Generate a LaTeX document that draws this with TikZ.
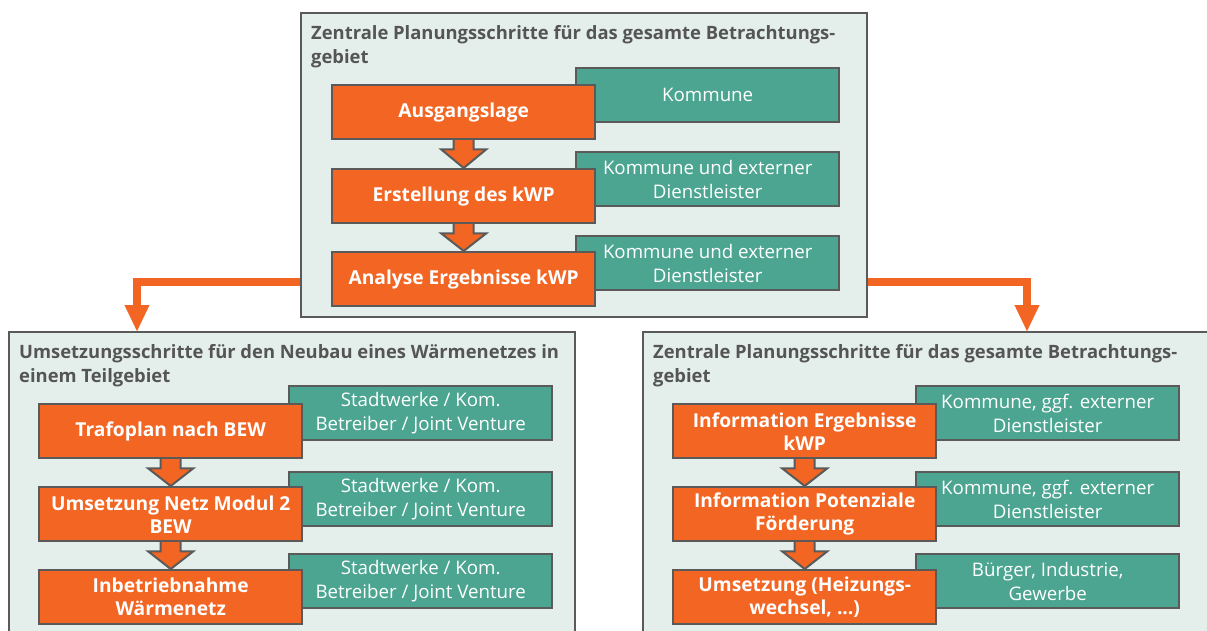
\documentclass[tikz,border=0pt]{standalone}
\usepackage{fontspec}
\setmainfont{Open Sans}
\usetikzlibrary{arrows.meta,calc}
\definecolor{orng}{HTML}{F26522}
\definecolor{tl}{HTML}{4BA590}
\definecolor{pnl}{HTML}{E4EFEC}
\definecolor{edge}{HTML}{5A5A5A}
\definecolor{ttl}{HTML}{555555}
\pgfdeclarelayer{bg}\pgfdeclarelayer{mid}\pgfsetlayers{bg,mid,main}
\tikzset{
  panelbox/.style={draw=edge, line width=2.2pt, fill=pnl, anchor=north west, inner sep=0pt},
  ttlstyle/.style={anchor=north west, inner sep=0pt, align=left, text=ttl, font=\fontsize{18.4}{24.5}\selectfont\bfseries},
  obox/.style={draw=edge, line width=2.4pt, fill=orng, anchor=north west, minimum width=263pt, minimum height=54pt, inner sep=0pt, align=center, text=white, font=\fontsize{19.2}{23}\selectfont\bfseries},
  tbox/.style={draw=edge, line width=2.4pt, fill=tl, anchor=north west, minimum width=263pt, minimum height=54pt, inner sep=0pt, align=center, text=white, font=\fontsize{18.7}{24}\selectfont},
  blockar/.style={draw=edge, line width=2pt, fill=orng, line join=miter},
  conn/.style={draw=orng, line width=8pt, -{Triangle[width=25pt,length=26pt,line width=0.1pt]}}
}
\newcommand\blockarrow[2]{%
  \draw[blockar] ($(#1.south)+(-10,-3)$) -- ($(#1.south)+(-10,9)$) -- ($(#1.south)+(-22.5,9)$) -- (#2.north) -- ($(#1.south)+(22.5,9)$) -- ($(#1.south)+(10,9)$) -- ($(#1.south)+(10,-3)$);}
\begin{document}
\begin{tikzpicture}[x=1pt,y=-1pt]
\useasboundingbox (0,0) rectangle (1207,630);
\clip (0,0) rectangle (1207,630);
\begin{pgfonlayer}{bg}
\node[panelbox, minimum width=566pt, minimum height=304pt] (top) at (300,12) {};
\node[panelbox, minimum width=566pt, minimum height=320pt] (bl) at (8,331) {};
\node[panelbox, minimum width=600pt, minimum height=320pt] (br) at (642,331) {};
\end{pgfonlayer}
% titles
\node[ttlstyle] (ttop) at ($(top.north west)+(11,13)$) {Zentrale Planungsschritte für das gesamte Betrachtungs-\\gebiet};
\node[ttlstyle] (tbl) at ($(bl.north west)+(11,13)$) {Umsetzungsschritte für den Neubau eines Wärmenetzes in\\einem Teilgebiet};
\node[ttlstyle] (tbr) at ($(br.north west)+(11,13)$) {Zentrale Planungsschritte für das gesamte Betrachtungs-\\gebiet};
% top panel boxes
\node[obox] (o1) at (331,84) {Ausgangslage};
\node[obox] (o2) at (331,168) {Erstellung des kWP};
\node[obox] (o3) at (331,251) {Analyse Ergebnisse kWP};
\begin{pgfonlayer}{mid}
\node[tbox] (t1) at (575,67) {Kommune};
\node[tbox] (t2) at (575,151) {Kommune und externer\\Dienstleister};
\node[tbox] (t3) at (575,235) {Kommune und externer\\Dienstleister};
\blockarrow{o1}{o2}
\blockarrow{o2}{o3}
\end{pgfonlayer}
% bottom left
\node[obox] (l1) at (38,403) {Trafoplan nach BEW};
\node[obox] (l2) at (38,486) {Umsetzung Netz Modul 2\\BEW};
\node[obox] (l3) at (38,569) {Inbetriebnahme\\Wärmenetz};
\begin{pgfonlayer}{mid}
\node[tbox] (lt1) at (288,385) {Stadtwerke / Kom.\\Betreiber / Joint Venture};
\node[tbox] (lt2) at (288,471) {Stadtwerke / Kom.\\Betreiber / Joint Venture};
\node[tbox] (lt3) at (288,553) {Stadtwerke / Kom.\\Betreiber / Joint Venture};
\blockarrow{l1}{l2}
\blockarrow{l2}{l3}
\end{pgfonlayer}
% bottom right
\node[obox] (r1) at (672,403) {Information Ergebnisse\\kWP};
\node[obox] (r2) at (672,486) {Information Potenziale\\Förderung};
\node[obox] (r3) at (672,569) {Umsetzung (Heizungs-\\wechsel, ...)};
\begin{pgfonlayer}{mid}
\node[tbox] (rt1) at (915,385) {Kommune, ggf. externer\\Dienstleister};
\node[tbox] (rt2) at (915,471) {Kommune, ggf. externer\\Dienstleister};
\node[tbox] (rt3) at (915,553) {Bürger, Industrie,\\Gewerbe};
\blockarrow{r1}{r2}
\blockarrow{r2}{r3}
\end{pgfonlayer}
% connectors
\coordinate (cl) at ($(bl.north west)+(129,0)$);
\coordinate (cr) at ($(br.north west)+(385,0)$);
\draw[conn] ($(top.west |- o3.center)+(0,3)$) -| (cl);
\draw[conn] ($(top.east |- o3.center)+(0,3)$) -| (cr);
\end{tikzpicture}
\end{document}
